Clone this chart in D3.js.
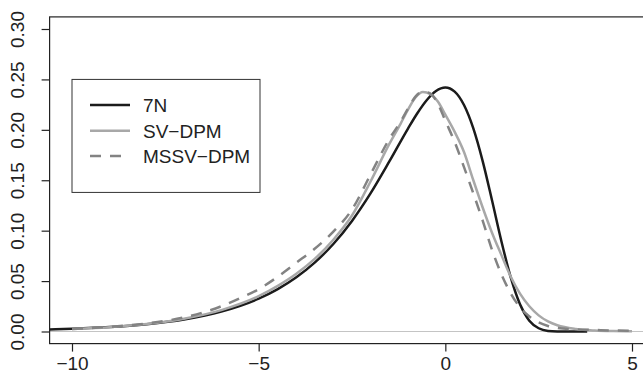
<!DOCTYPE html>
<html>
<head>
<meta charset="utf-8">
<script src="https://cdn.jsdelivr.net/npm/d3@7"></script>
<style>
  body { margin: 0; background: #fff; }
  svg { display: block; font-family: "Liberation Sans", Arial, sans-serif; }
</style>
</head>
<body>
<div id="chart"></div>
<script>
// density curves
const x7N = [-10.6, -10, -9, -8, -7, -6, -5, -4.5, -4, -3.5, -3, -2.5, -2, -1.5, -1, -0.75, -0.5, -0.25, 0,
  0.25, 0.5, 0.75, 1, 1.25, 1.5, 1.75, 2, 2.25, 2.5, 2.75, 3, 3.3, 3.8];
const y7N = [0.0020, 0.0027, 0.0044, 0.0073, 0.0120, 0.0198, 0.0326, 0.0418, 0.0535, 0.0683, 0.0868, 0.1097, 0.1372, 0.1686, 0.2013, 0.2165, 0.2294, 0.2385, 0.2420,
  0.2379, 0.2246, 0.2014, 0.1690, 0.1301, 0.0898, 0.0539, 0.0270, 0.0107, 0.0032, 0.0006, 0.0001, 0.0000, 0.0000];

const xSV = [-10, -9, -8, -7, -6, -5, -4.5, -4, -3.5, -3, -2.5, -2, -1.5, -1.2, -1, -0.8, -0.6, -0.4, -0.2, 0,
  0.25, 0.5, 0.75, 1, 1.25, 1.5, 1.75, 2, 2.25, 2.5, 2.75, 3, 3.5, 4, 4.5, 5];
const ySV = [0.0025, 0.0043, 0.0074, 0.0127, 0.0212, 0.0350, 0.0450, 0.0570, 0.0720, 0.0910, 0.1150, 0.1490, 0.1860, 0.2060, 0.2200, 0.2320, 0.2375, 0.2355, 0.2280, 0.2150,
  0.1980, 0.1780, 0.1500, 0.1230, 0.0980, 0.0760, 0.0545, 0.0375, 0.0250, 0.0160, 0.0100, 0.0062, 0.0025, 0.0010, 0.0004, 0.0002];

const xMS = [-10, -9, -8, -7, -6, -5.5, -5, -4.5, -4, -3.5, -3, -2.5, -2, -1.5, -1.2, -1, -0.8, -0.6, -0.4, -0.2, 0,
  0.25, 0.5, 0.75, 1, 1.25, 1.5, 1.75, 2, 2.25, 2.5, 2.75, 3, 3.5, 4, 4.5, 5];
const yMS = [0.0026, 0.0046, 0.0080, 0.0140, 0.0250, 0.0330, 0.0420, 0.0540, 0.0680, 0.0820, 0.0990, 0.1210, 0.1560, 0.1910, 0.2080, 0.2210, 0.2330, 0.2380, 0.2360, 0.2260, 0.2090,
  0.1880, 0.1630, 0.1370, 0.1100, 0.0810, 0.0570, 0.0380, 0.0240, 0.0150, 0.0090, 0.0055, 0.0035, 0.0020, 0.0015, 0.0010, 0.0008];

const xTicks = [-10, -5, 0, 5];
const yTicks = [0, 0.05, 0.10, 0.15, 0.20, 0.25, 0.30];
const seriesNames = ["7N", "SV-DPM", "MSSV-DPM"];

const width = 643, height = 377;
const fontSize = 19;

const svg = d3.select("#chart").append("svg")
    .attr("width", width)
    .attr("height", height);

// R style: limits padded by 4% on each side
let x = d3.scaleLinear().domain([-10.6, 5.6]).range([49.6, 654.4]);
let y = d3.scaleLinear().domain([-0.012, 0.312]).range([343.6, 16.9]);

svg.append("clipPath").attr("id", "plotclip")
  .append("rect")
    .attr("x", x(-10.6)).attr("y", y(0.312))
    .attr("width", x(5.6) - x(-10.6)).attr("height", y(-0.012) - y(0.312));

const plot = svg.append("g").attr("clip-path", "url(#plotclip)");

plot.append("line")
    .attr("x1", x(-10.6)).attr("x2", x(5.6))
    .attr("y1", y(0)).attr("y2", y(0))
    .attr("stroke", "#c4c4c4")
    .attr("stroke-width", 1.2);

const line = d3.line()
    .x(d => x(d[0]))
    .y(d => y(d[1]))
    .curve(d3.curveMonotoneX);

const series = [
  { name: seriesNames[0], pts: d3.zip(x7N, y7N), color: "#1b1b1b", dash: null },
  { name: seriesNames[1], pts: d3.zip(xSV, ySV), color: "#a8a8a8", dash: null },
  { name: seriesNames[2], pts: d3.zip(xMS, yMS), color: "#838383", dash: "11,9" }
];

plot.selectAll(".curve")
  .data(series)
  .enter().append("path")
    .attr("class", "curve")
    .attr("d", d => line(d.pts))
    .attr("fill", "none")
    .attr("stroke", d => d.color)
    .attr("stroke-width", 2.5)
    .attr("stroke-dasharray", d => d.dash);

// box
svg.append("rect")
    .attr("x", x(-10.6)).attr("y", y(0.312))
    .attr("width", x(5.6) - x(-10.6)).attr("height", y(-0.012) - y(0.312))
    .attr("fill", "none")
    .attr("stroke", "#222")
    .attr("stroke-width", 1.2);

const xAxis = svg.append("g")
    .attr("transform", "translate(0," + y(-0.012) + ")")
    .call(d3.axisBottom(x).tickValues(xTicks).tickSize(8).tickPadding(5)
      .tickFormat(d => d < 0 ? "\u2212" + Math.abs(d) : d));
xAxis.select(".domain").remove();
xAxis.selectAll("line").attr("stroke", "#222").attr("stroke-width", 1.2);
xAxis.selectAll("text").attr("font-size", fontSize).attr("fill", "#222")
    .attr("font-family", "Liberation Sans, Arial, sans-serif");

const yAxis = svg.append("g")
    .attr("transform", "translate(" + x(-10.6) + ",0)")
    .call(d3.axisLeft(y).tickValues(yTicks).tickSize(8).tickFormat(d3.format(".2f")));
yAxis.select(".domain").remove();
yAxis.selectAll("line").attr("stroke", "#222").attr("stroke-width", 1.2);
yAxis.selectAll("text")
    .attr("font-size", fontSize).attr("fill", "#222")
    .attr("font-family", "Liberation Sans, Arial, sans-serif")
    .attr("text-anchor", "middle")
    .attr("dy", null)
    .attr("x", null)
    .attr("transform", "translate(-32,0) rotate(-90)")
    .attr("dominant-baseline", "central");

// legend
const legend = svg.append("g");
legend.append("rect")
    .attr("x", 72).attr("y", y(0.25))
    .attr("width", 188).attr("height", 113)
    .attr("fill", "#fff")
    .attr("stroke", "#333")
    .attr("stroke-width", 1);

const rowY = [105, 130.7, 156];
const items = legend.selectAll(".item")
  .data(series)
  .enter().append("g")
    .attr("class", "item")
    .attr("transform", (d, i) => "translate(0," + rowY[i] + ")");
items.append("line")
    .attr("x1", 90).attr("x2", 130)
    .attr("stroke", d => d.color)
    .attr("stroke-width", 2.5)
    .attr("stroke-dasharray", d => d.dash);
items.append("text")
    .attr("x", 143)
    .attr("dy", "0.36em")
    .attr("font-size", fontSize)
    .attr("fill", "#222")
    .text(d => d.name.replace("-", "\u2212"));
</script>
</body>
</html>
